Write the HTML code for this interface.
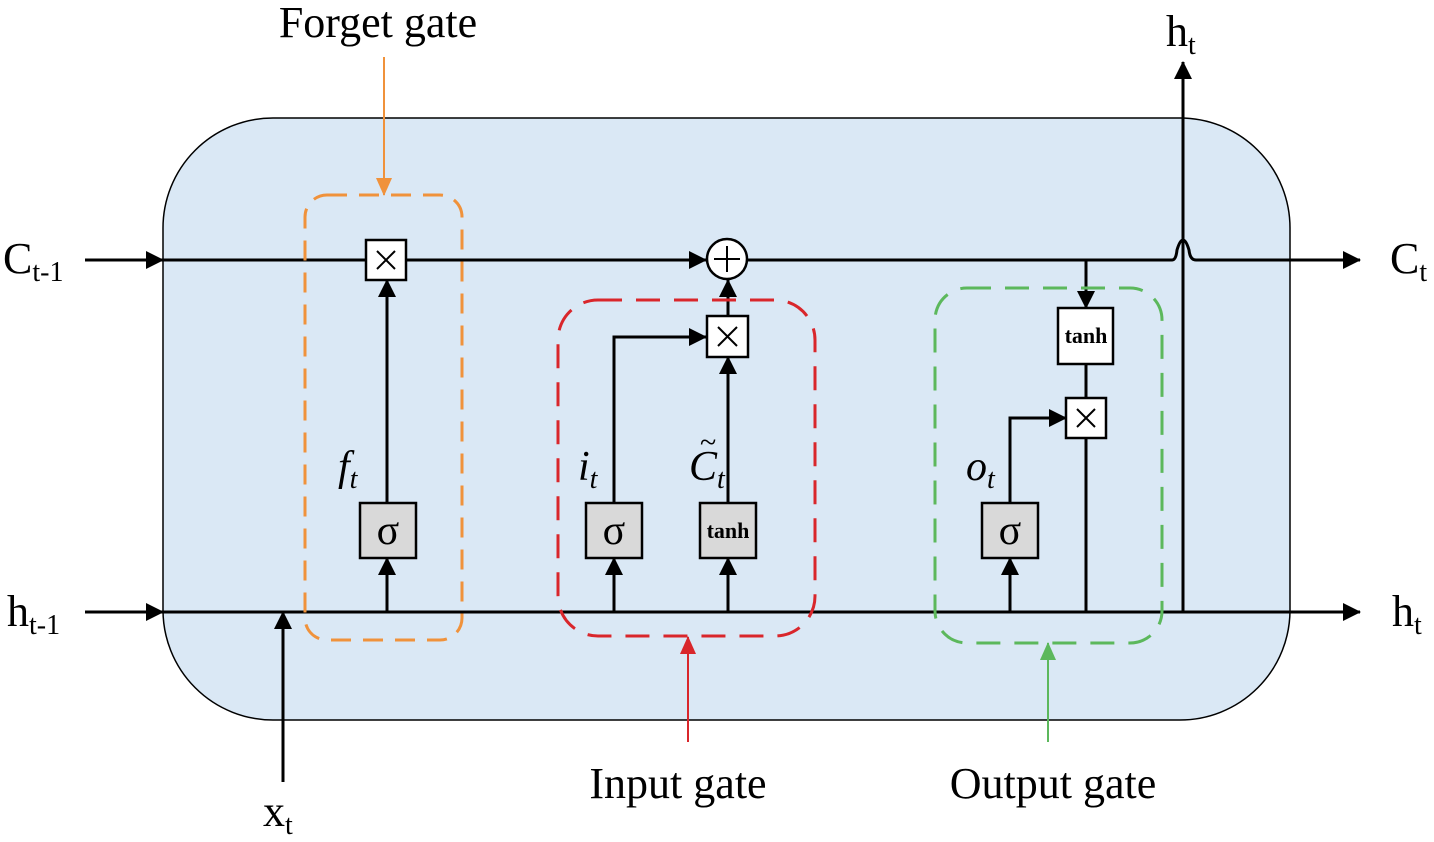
<!DOCTYPE html>
<html><head><style>body{margin:0;background:#fff}svg{display:block}</style></head><body>
<svg width="1434" height="842" viewBox="0 0 1434 842" xmlns="http://www.w3.org/2000/svg" font-family="Liberation Serif, serif">
<defs>
<marker id="ab" markerWidth="20" markerHeight="20" refX="19" refY="10" orient="auto" markerUnits="userSpaceOnUse" viewBox="0 0 20 20"><path d="M2,1 L20,10 L2,19z" fill="#000"/></marker>
<marker id="ao" markerWidth="18" markerHeight="18" refX="17" refY="9" orient="auto" markerUnits="userSpaceOnUse" viewBox="0 0 18 18"><path d="M0,1 L18,9 L0,17z" fill="#f0923b"/></marker>
<marker id="ar" markerWidth="18" markerHeight="18" refX="17" refY="9" orient="auto" markerUnits="userSpaceOnUse" viewBox="0 0 18 18"><path d="M0,1 L18,9 L0,17z" fill="#d9262b"/></marker>
<marker id="ag" markerWidth="18" markerHeight="18" refX="17" refY="9" orient="auto" markerUnits="userSpaceOnUse" viewBox="0 0 18 18"><path d="M0,1 L18,9 L0,17z" fill="#5cb85c"/></marker>
</defs>
<rect x="163" y="118" width="1127" height="602" rx="110" fill="#dae8f5" stroke="#000" stroke-width="1.5"/>
<g stroke="#000" stroke-width="3" fill="none">
<line x1="85" y1="260" x2="163" y2="260" marker-end="url(#ab)"/>
<line x1="85" y1="612" x2="163" y2="612" marker-end="url(#ab)"/>
<line x1="163" y1="260" x2="706" y2="260" marker-end="url(#ab)"/>
<path d="M747,260 H1172 Q1176,260 1177,250 Q1183,230 1189,250 Q1190,260 1196,260 H1360" marker-end="url(#ab)"/>
<line x1="163" y1="612" x2="1360" y2="612" marker-end="url(#ab)"/>
<line x1="283" y1="782" x2="283" y2="612" marker-end="url(#ab)"/>
<line x1="387" y1="612" x2="387" y2="558" marker-end="url(#ab)"/>
<line x1="387" y1="503" x2="387" y2="280" marker-end="url(#ab)"/>
<line x1="614" y1="612" x2="614" y2="558" marker-end="url(#ab)"/>
<line x1="728" y1="612" x2="728" y2="558" marker-end="url(#ab)"/>
<path d="M614,503 V337 H706" marker-end="url(#ab)"/>
<line x1="728" y1="503" x2="728" y2="357" marker-end="url(#ab)"/>
<line x1="728" y1="315" x2="728" y2="280" marker-end="url(#ab)"/>
<line x1="1010" y1="612" x2="1010" y2="558" marker-end="url(#ab)"/>
<path d="M1010,503 V418 H1066" marker-end="url(#ab)"/>
<line x1="1086" y1="260" x2="1086" y2="308" marker-end="url(#ab)"/>
<line x1="1086" y1="364" x2="1086" y2="398"/>
<line x1="1086" y1="438" x2="1086" y2="612"/>
<line x1="1183" y1="612" x2="1183" y2="62" marker-end="url(#ab)"/>
</g>
<rect x="305" y="195" width="157" height="445" rx="22" fill="none" stroke="#f0923b" stroke-width="3" stroke-dasharray="20,12"/>
<rect x="558" y="300" width="257" height="336" rx="40" fill="none" stroke="#d9262b" stroke-width="3" stroke-dasharray="24,14"/>
<rect x="935" y="288" width="227" height="355" rx="32" fill="none" stroke="#5cb85c" stroke-width="3" stroke-dasharray="24,14"/>
<line x1="384" y1="57" x2="384" y2="195" stroke="#f0923b" stroke-width="2" marker-end="url(#ao)"/>
<line x1="688" y1="742" x2="688" y2="637" stroke="#d9262b" stroke-width="2" marker-end="url(#ar)"/>
<line x1="1048" y1="742" x2="1048" y2="643" stroke="#5cb85c" stroke-width="2" marker-end="url(#ag)"/>
<g stroke="#000" stroke-width="2.5">
<rect x="366" y="240" width="40" height="40" fill="#fff"/>
<rect x="707" y="316" width="41" height="41" fill="#fff"/>
<rect x="1066" y="398" width="40" height="40" fill="#fff"/>
<rect x="1058" y="308" width="55" height="56" fill="#fff"/>
<rect x="360" y="503" width="56" height="55" fill="#d9d9d9"/>
<rect x="586" y="503" width="56" height="55" fill="#d9d9d9"/>
<rect x="700" y="503" width="56" height="55" fill="#d9d9d9"/>
<rect x="982" y="503" width="56" height="55" fill="#d9d9d9"/>
<circle cx="727" cy="259" r="20" fill="#fff"/>
</g>
<g stroke="#000" stroke-width="2">
<path d="M377,251 L395,269 M395,251 L377,269"/>
<path d="M718,327 L737,346 M737,327 L718,346"/>
<path d="M1077,409 L1095,427 M1095,409 L1077,427"/>
<path d="M714,259 H740 M727,246 V272"/>
</g>
<g font-size="42" text-anchor="middle">
<text x="388" y="544">σ</text><text x="614" y="544">σ</text><text x="1010" y="544">σ</text>
</g>
<g font-size="22" font-weight="bold" text-anchor="middle">
<text x="728" y="538">tanh</text><text x="1086" y="343">tanh</text>
</g>
<g font-size="44">
<text x="378" y="37" text-anchor="middle">Forget gate</text>
<text x="678" y="798" text-anchor="middle">Input gate</text>
<text x="1053" y="798" text-anchor="middle">Output gate</text>
<text x="3" y="273">C<tspan font-size="28" dy="8">t-1</tspan></text>
<text x="7" y="626">h<tspan font-size="28" dy="8">t-1</tspan></text>
<text x="1390" y="273">C<tspan font-size="28" dy="8">t</tspan></text>
<text x="1392" y="626">h<tspan font-size="28" dy="8">t</tspan></text>
<text x="1166" y="46">h<tspan font-size="28" dy="8">t</tspan></text>
<text x="263" y="826">x<tspan font-size="28" dy="8">t</tspan></text>
</g>
<g font-size="42" font-style="italic">
<text x="338" y="480">f<tspan font-size="28" dy="8">t</tspan></text>
<text x="578" y="480">i<tspan font-size="28" dy="8">t</tspan></text>
<text x="689" y="480">C<tspan font-size="28" dy="8">t</tspan></text>
<text x="700" y="452" font-style="normal" font-size="30">~</text>
<text x="966" y="480">o<tspan font-size="28" dy="8">t</tspan></text>
</g>
</svg>
</body></html>
